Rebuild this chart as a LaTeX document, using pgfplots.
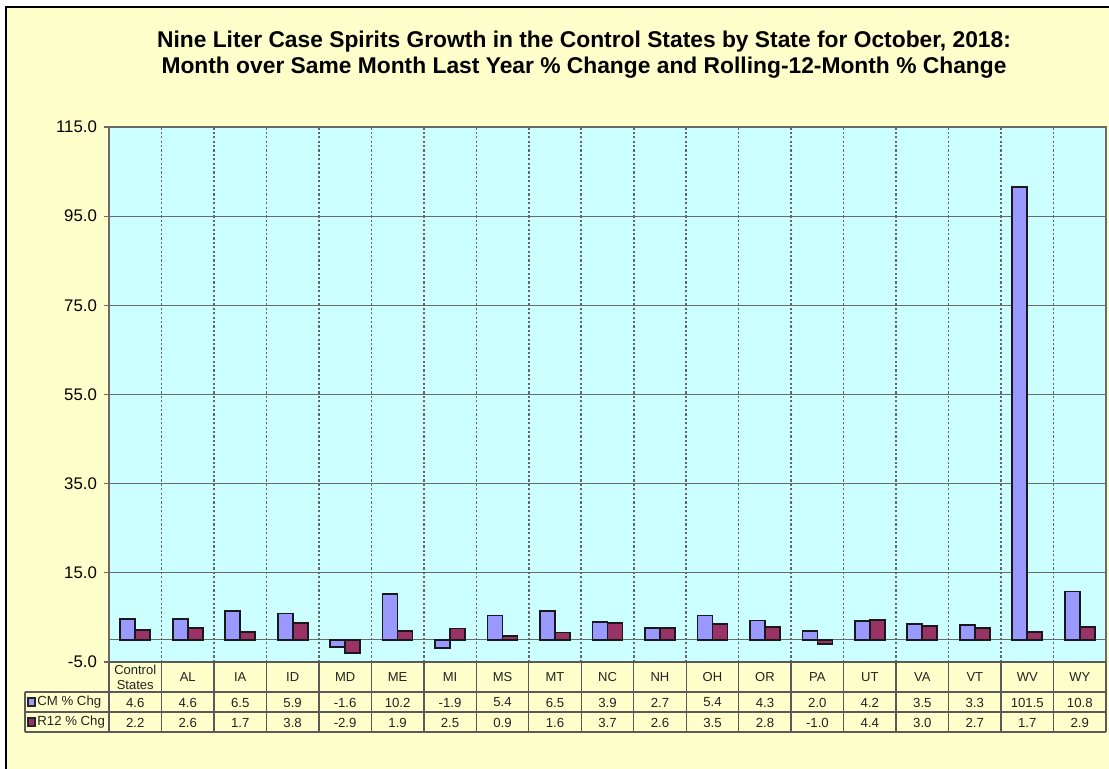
\documentclass[border=0pt]{standalone}
\usepackage{pgfplots}
\pgfplotsset{compat=1.18}
\usepackage{pgfplotstable}
\usepackage{fontspec}
\setmainfont{Liberation Sans}
\definecolor{bgy}{HTML}{FFFFCC}
\definecolor{plotbg}{HTML}{CCFFFF}
\definecolor{cmc}{HTML}{9999FF}
\definecolor{rc}{HTML}{993366}
\definecolor{gridc}{HTML}{6A6A6A}
\definecolor{txt}{HTML}{222222}

\pgfplotstableread{
i cm r12
0 4.6 2.2
1 4.6 2.6
2 6.5 1.7
3 5.9 3.8
4 -1.6 -2.9
5 10.2 1.9
6 -1.9 2.5
7 5.4 0.9
8 6.5 1.6
9 3.9 3.7
10 2.7 2.6
11 5.4 3.5
12 4.3 2.8
13 2.0 -1.0
14 4.2 4.4
15 3.5 3.0
16 3.3 2.7
17 101.5 1.7
18 10.8 2.9
}\data

\begin{document}
\begin{tikzpicture}
\begin{scope}[x=0.5pt,y=-0.5pt]
\useasboundingbox (0,0) rectangle (1109,768);
\fill[white] (0,0) rectangle (1109,768);
\filldraw[fill=bgy, draw=black, line width=0.6pt] (6,7) rectangle (1140,800);
\node[font=\bfseries\fontsize{11.4}{13}\selectfont, align=center, text=black] at (584,55)
  {Nine Liter Case Spirits Growth in the Control States by State for October, 2018:\\
   Month over Same Month Last Year \% Change and Rolling-12-Month \% Change};
\end{scope}

\begin{axis}[
  at={(54.5pt,-63.5pt)}, anchor=north west,
  width=498.5pt, height=267.5pt, scale only axis,
  xmin=-0.5, xmax=18.5, ymin=-5, ymax=115,
  ytick={-5,15,...,115},
  xtick=\empty,
  ymajorgrids,
  major y grid style={color=gridc, line width=0.55pt},
  extra y ticks={0},
  extra y tick labels={},
  extra y tick style={major tick length=0pt, grid=major, major grid style={color=gridc, line width=0.7pt}},
  axis background/.style={fill=plotbg},
  axis line style={color=gridc, line width=0.6pt},
  ytick pos=left, tick align=outside, major tick length=2.5pt,
  tick style={color=gridc, line width=0.6pt},
  yticklabel style={font=\fontsize{8.4}{9}\selectfont, text=black,
    /pgf/number format/.cd, fixed, fixed zerofill, precision=1, assume math mode=true},
  ybar=0pt, bar width=7.5pt,
]
\pgfplotsinvokeforeach{0.5,1.5,...,17.5}{
  \draw[color=black!60, dash pattern=on 1.1pt off 1.1pt, line width=0.8pt] (axis cs:#1,-5) -- (axis cs:#1,115);
}
\addplot[fill=cmc, draw=black!90, line width=0.85pt] table[x=i, y=cm] {\data};
\addplot[fill=rc, draw=black!90, line width=0.85pt] table[x=i, y=r12] {\data};
\draw[color=gridc, line width=1.1pt] (rel axis cs:0,0) -- (rel axis cs:0,1);
\end{axis}

\begin{scope}[x=0.5pt,y=-0.5pt]
\draw[gridc!85!black, line width=0.7pt] (109,662) -- (1106,662);
\draw[gridc!85!black, line width=0.7pt] (25,692) -- (1106,692);
\draw[gridc!85!black, line width=0.7pt] (25,712) -- (1106,712);
\draw[gridc!85!black, line width=0.7pt] (25,732) -- (1106,732);
\draw[gridc!85!black, line width=0.7pt] (25,692) -- (25,732);
\foreach \k in {0,...,19} {
  \draw[gridc!85!black, line width=0.7pt] ({109+52.474*\k},662) -- ({109+52.474*\k},732);
}
\draw[black!85, fill=cmc, line width=0.6pt] (28,698) rectangle (35,706);
\draw[black!85, fill=rc, line width=0.6pt] (28,718) rectangle (35,726);
\node[anchor=west, inner sep=0pt, font=\fontsize{6.6}{8}\selectfont, text=txt] at (37,702) {CM \% Chg};
\node[anchor=west, inner sep=0pt, font=\fontsize{6.6}{8}\selectfont, text=txt] at (37,722) {R12 \% Chg};
\foreach \c/\v/\w [count=\i from 0] in {
  {Control\\States}/4.6/2.2, AL/4.6/2.6, IA/6.5/1.7, ID/5.9/3.8, MD/-1.6/-2.9,
  ME/10.2/1.9, MI/-1.9/2.5, MS/5.4/0.9, MT/6.5/1.6, NC/3.9/3.7, NH/2.7/2.6,
  OH/5.4/3.5, OR/4.3/2.8, PA/2.0/-1.0, UT/4.2/4.4, VA/3.5/3.0, VT/3.3/2.7,
  WV/101.5/1.7, WY/10.8/2.9} {
  \node[align=center, inner sep=0pt, font=\fontsize{6.5}{7.5}\selectfont, text=txt] at ({109+52.474*(\i+0.5)},677) {\c};
  \node[inner sep=0pt, font=\fontsize{6.6}{8}\selectfont, text=txt] at ({109+52.474*(\i+0.5)},702.5) {\v};
  \node[inner sep=0pt, font=\fontsize{6.6}{8}\selectfont, text=txt] at ({109+52.474*(\i+0.5)},722.5) {\w};
}
\end{scope}
\end{tikzpicture}
\end{document}
